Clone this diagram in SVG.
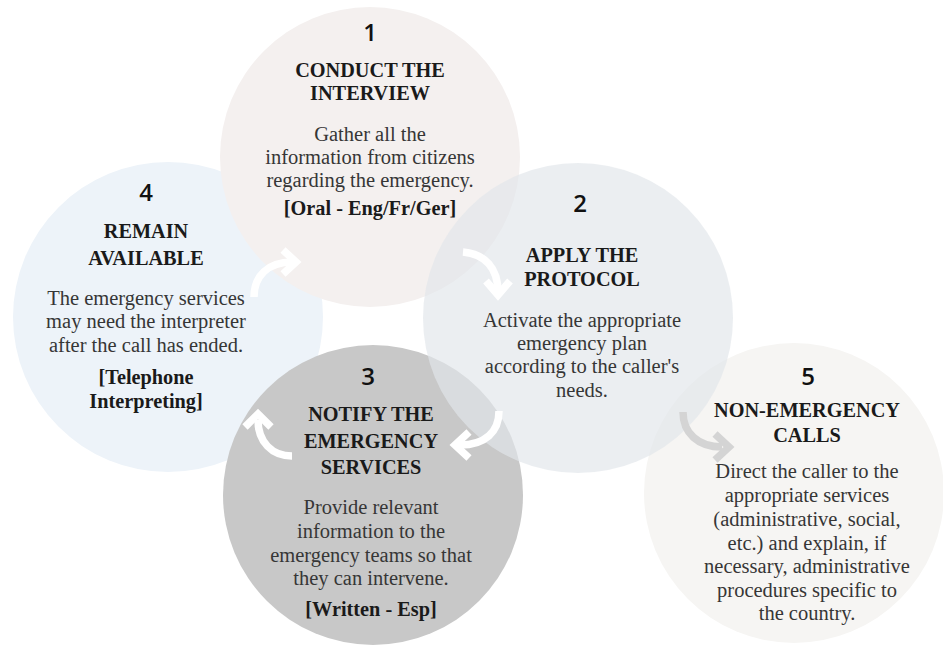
<svg xmlns="http://www.w3.org/2000/svg" width="943" height="647" viewBox="0 0 943 647">
  <style>
    .num { font-family: "Open Sans", "DejaVu Sans", sans-serif; font-weight: 600; font-size: 24px; fill: #111; text-anchor: middle; }
    .head { font-family: "Liberation Serif", "DejaVu Serif", serif; font-weight: bold; font-size: 20.3px; fill: #1a1a1a; text-anchor: middle; }
    .body { font-family: "Liberation Serif", "DejaVu Serif", serif; font-size: 20.5px; fill: #363636; text-anchor: middle; }
    .tag { font-family: "Liberation Serif", "DejaVu Serif", serif; font-weight: bold; font-size: 20.3px; fill: #1a1a1a; text-anchor: middle; }
    .flow { fill: none; stroke: #ffffff; stroke-width: 7.5; stroke-linecap: butt; stroke-linejoin: miter; }
    .flow-alt { fill: none; stroke: #d4d4d4; stroke-width: 7.5; stroke-linecap: butt; stroke-linejoin: miter; }
  </style>
  <rect width="943" height="647" fill="#ffffff"/>

  <!-- step 4: remain available -->
  <g id="step4">
    <circle cx="168" cy="317" r="155" fill="#edf3f9"/>
  </g>
  <!-- step 1: conduct the interview -->
  <g id="step1">
    <circle cx="370" cy="157" r="150" fill="#f4f0ef"/>
  </g>
  <!-- step 3: notify the emergency services -->
  <g id="step3">
    <circle cx="373" cy="495" r="150" fill="#c8c8c8"/>
  </g>
  <!-- step 5: non-emergency calls -->
  <g id="step5">
    <circle cx="794" cy="493" r="150" fill="#f6f5f3"/>
  </g>
  <!-- step 2: apply the protocol (translucent, sits over 1, 3 and 5) -->
  <g id="step2">
    <circle cx="578" cy="318" r="155" fill="#e1e6ea" fill-opacity="0.67"/>
  </g>

  <!-- cycle arrows -->
  <g id="connectors">
    <path class="flow" d="M254,297 C254,276 268,262 292,262"/>
    <path class="flow" d="M283,250 L296,262 L283,274"/>

    <path class="flow" d="M463,252 C485,254 498,268 498,292"/>
    <path class="flow" d="M486,281 L498,295 L510,281"/>

    <path class="flow" d="M499,411 C499,432 485,445 460,445"/>
    <path class="flow" d="M469,432 L455,445 L469,458"/>

    <path class="flow" d="M292,456 C272,456 258,442 258,420"/>
    <path class="flow" d="M245,427 L258,414 L271,427"/>

    <path class="flow-alt" d="M683,412 C683,433 698,447 722,447"/>
    <path class="flow-alt" d="M715,434 L729,447 L715,460"/>
  </g>

  <!-- labels -->
  <g id="step1-text">
    <text class="num" x="370" y="41">1</text>
    <text class="head" x="370" y="77">CONDUCT THE</text>
    <text class="head" x="370" y="100">INTERVIEW</text>
    <text class="body" x="370" y="141">Gather all the</text>
    <text class="body" x="370" y="164">information from citizens</text>
    <text class="body" x="370" y="187">regarding the emergency.</text>
    <text class="tag" x="370" y="215">[Oral - Eng/Fr/Ger]</text>
  </g>
  <g id="step2-text">
    <text class="num" x="580" y="212">2</text>
    <text class="head" x="582" y="262">APPLY THE</text>
    <text class="head" x="582" y="286">PROTOCOL</text>
    <text class="body" x="582" y="327">Activate the appropriate</text>
    <text class="body" x="582" y="350">emergency plan</text>
    <text class="body" x="582" y="373">according to the caller's</text>
    <text class="body" x="582" y="397">needs.</text>
  </g>
  <g id="step4-text">
    <text class="num" x="146" y="201">4</text>
    <text class="head" x="146" y="238">REMAIN</text>
    <text class="head" x="146" y="265">AVAILABLE</text>
    <text class="body" x="146" y="305">The emergency services</text>
    <text class="body" x="146" y="328">may need the interpreter</text>
    <text class="body" x="146" y="352">after the call has ended.</text>
    <text class="tag" x="146" y="384">[Telephone</text>
    <text class="tag" x="146" y="408">Interpreting]</text>
  </g>
  <g id="step3-text">
    <text class="num" x="368" y="385">3</text>
    <text class="head" x="371" y="421">NOTIFY THE</text>
    <text class="head" x="371" y="448">EMERGENCY</text>
    <text class="head" x="371" y="474">SERVICES</text>
    <text class="body" x="371" y="514">Provide relevant</text>
    <text class="body" x="371" y="538">information to the</text>
    <text class="body" x="371" y="562">emergency teams so that</text>
    <text class="body" x="371" y="585">they can intervene.</text>
    <text class="tag" x="371" y="616">[Written - Esp]</text>
  </g>
  <g id="step5-text">
    <text class="num" x="808" y="385">5</text>
    <text class="head" x="807" y="417">NON-EMERGENCY</text>
    <text class="head" x="807" y="442">CALLS</text>
    <text class="body" x="807" y="478">Direct the caller to the</text>
    <text class="body" x="807" y="502">appropriate services</text>
    <text class="body" x="807" y="526">(administrative, social,</text>
    <text class="body" x="807" y="550">etc.) and explain, if</text>
    <text class="body" x="807" y="573">necessary, administrative</text>
    <text class="body" x="807" y="597">procedures specific to</text>
    <text class="body" x="807" y="620">the country.</text>
  </g>
</svg>
